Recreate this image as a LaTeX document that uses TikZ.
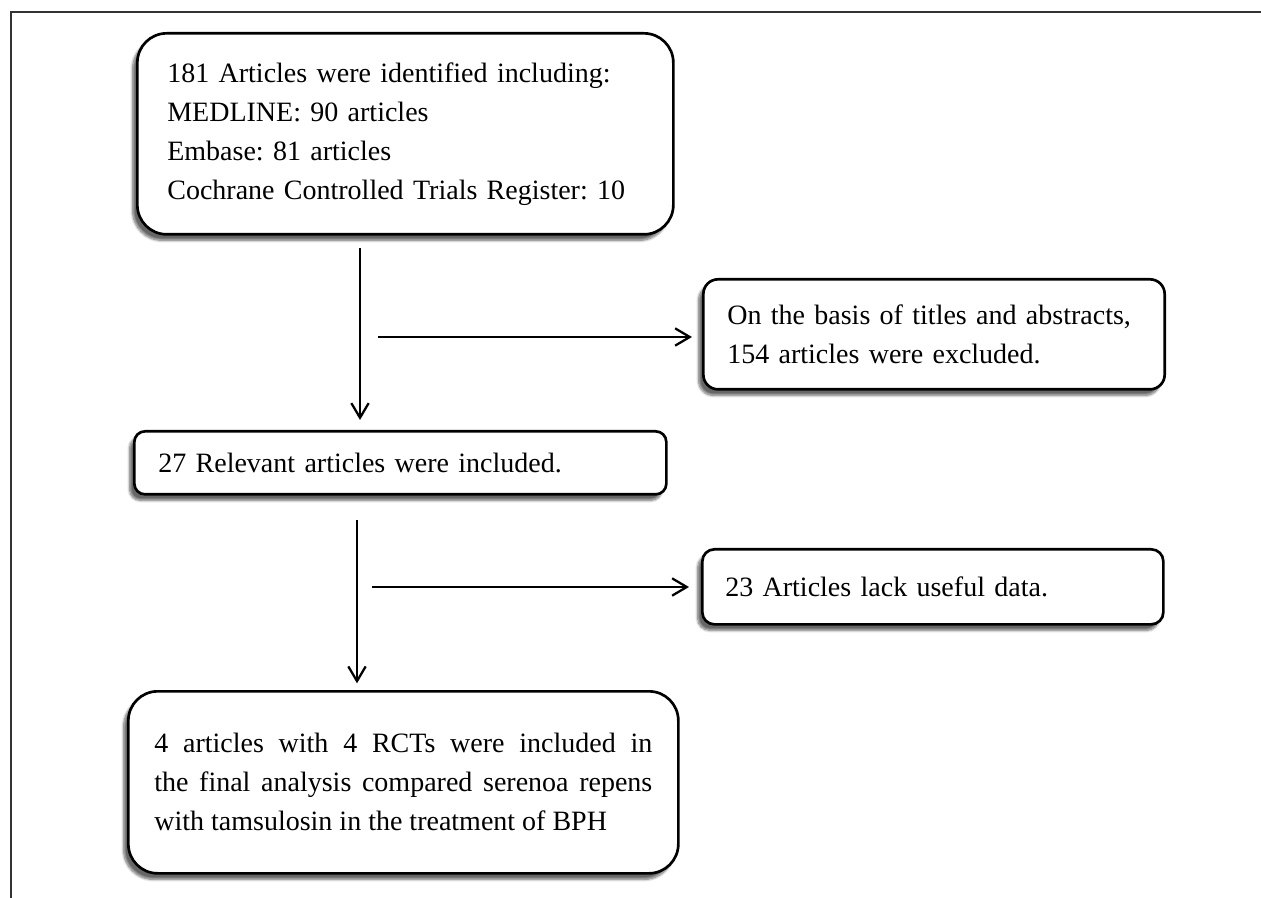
\documentclass[tikz,border=0pt]{standalone}
\usepackage{fontspec}
\setmainfont{Liberation Serif}
\usetikzlibrary{arrows.meta,shadows.blur}

\tikzset{
  box/.style={draw=black,line width=2pt,fill=white,anchor=north west,
    font=\fontsize{21}{29.3}\selectfont\frenchspacing,
    blur shadow={shadow xshift=-3.5pt,shadow yshift=-4.5pt,shadow blur steps=8,shadow opacity=60}},
  arr/.style={line width=1.7pt,-{Straight Barb[length=11pt,width=13pt,line width=1.7pt]}},
}

\begin{document}
\begin{tikzpicture}[x=0.75pt,y=-0.75pt]
\useasboundingbox (0,0) rectangle (1261,898);

% outer frame (only top and left edges show)
\draw[line width=1.5pt,color=black!80] (11,898) -- (11,12) -- (1261,12);

% boxes
\node[box,rounded corners=22pt,align=left,text width=357pt,inner xsep=22.5pt,
  minimum height=150.75pt] (ident) at (136,32)
  {181 Articles were identified including:\\ MEDLINE: 90 articles\\
   Embase: 81 articles\\ Cochrane Controlled Trials Register: 10};

\node[box,rounded corners=11pt,align=left,text width=310pt,inner xsep=18pt,
  minimum height=82.5pt] (excl1) at (702,278)
  {On the basis of titles and abstracts,\\ 154 articles were excluded.};

\node[box,rounded corners=8pt,align=left,text width=363pt,inner xsep=18pt,
  minimum height=47.25pt] (rel) at (133,430)
  {27 Relevant articles were included.};

\node[box,rounded corners=9pt,align=left,text width=311.25pt,inner xsep=17.25pt,
  minimum height=56.25pt] (excl2) at (701,548)
  {23 Articles lack useful data.};

\node[box,rounded corners=22pt,align=justify,text width=373.5pt,inner xsep=19.5pt,
  minimum height=136.5pt] (final) at (127,690)
  {4 articles with 4 RCTs were included in\linebreak
   the final analysis compared serenoa repens\linebreak
   with tamsulosin in the treatment of BPH};

% arrows
\coordinate (v1) at (360,248);
\coordinate (h1) at (378,337);
\coordinate (v2) at (357,520);
\coordinate (h2) at (372,587);

\draw[arr,shorten >=7.5pt] (v1) -- (v1 |- rel.north);
\draw[arr,shorten >=7.5pt] (h1) -- (h1 -| excl1.west);
\draw[arr,shorten >=5pt] (v2) -- (v2 |- final.north);
\draw[arr,shorten >=9pt] (h2) -- (h2 -| excl2.west);

\end{tikzpicture}
\end{document}
